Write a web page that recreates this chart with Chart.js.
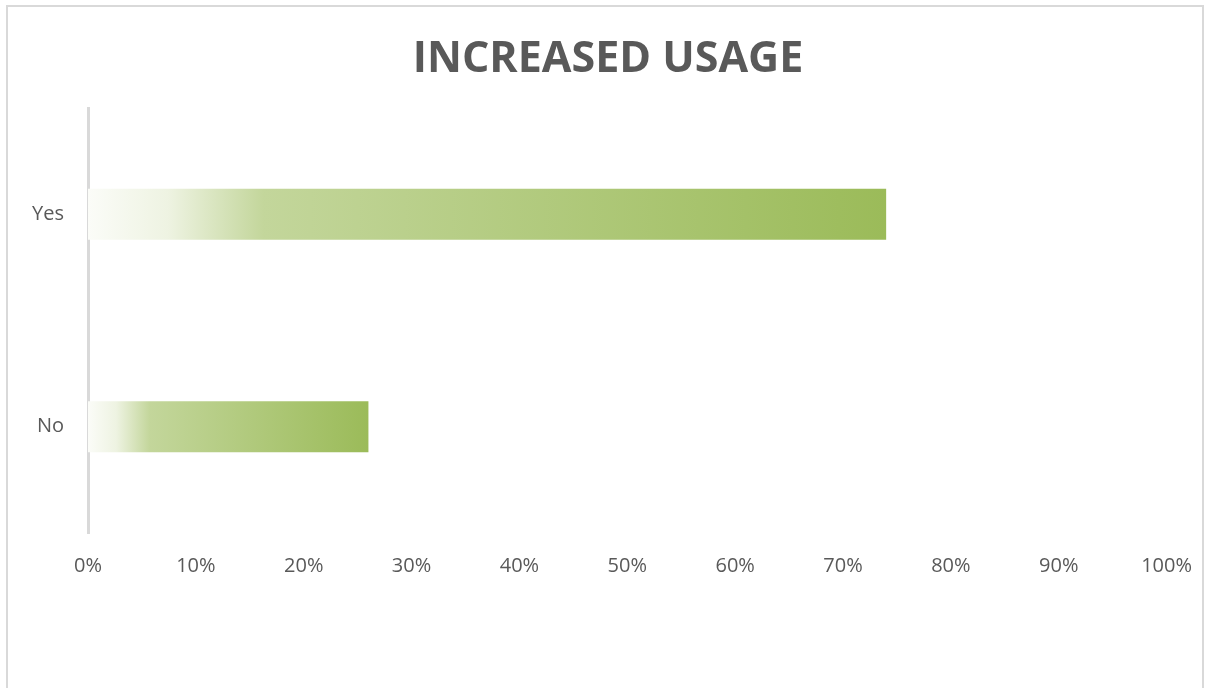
<!DOCTYPE html>
<html>
<head>
<meta charset="utf-8">
<script src="https://cdn.jsdelivr.net/npm/chart.js@4/dist/chart.umd.min.js"></script>
<style>
  html, body { margin: 0; padding: 0; background: #fff; }
  #wrap { position: relative; width: 1205px; height: 688px; }
</style>
</head>
<body>
<div id="wrap"><canvas id="usage-chart" width="1205" height="688"></canvas></div>
<script>
const chartTitle = 'INCREASED USAGE';
const categories = ['Yes', 'No'];
const shares = [74, 26]; // percent
const tickValues = [0, 10, 20, 30, 40, 50, 60, 70, 80, 90, 100];

const textColor = '#595959';
const lineColor = '#d9d9d9';

// Excel-like gradient fill: white fading into green along each bar
function barGradient(context) {
    const chart = context.chart;
    const scales = chart.scales;
    if (!chart.chartArea || !scales.x) return '#9bbb59';
    const x0 = scales.x.getPixelForValue(0);
    const x1 = scales.x.getPixelForValue(context.raw);
    const g = chart.ctx.createLinearGradient(x0, 0, x1, 0);
    g.addColorStop(0, '#fbfcf8');
    g.addColorStop(0.1, '#eef3e2');
    g.addColorStop(0.22, '#c3d69b');
    g.addColorStop(1, '#9bbb59');
    return g;
}

// thin frame round the chart, plus the title (centred a bit right of the canvas middle, like the original)
const framePlugin = {
    id: 'frame',
    beforeDraw(chart) {
        const c = chart.ctx;
        c.save();
        c.strokeStyle = lineColor;
        c.lineWidth = 2;
        c.strokeRect(7, 6, 1196, 700);
        c.fillStyle = textColor;
        c.font = 'bold 43px "Open Sans"';
        c.textAlign = 'center';
        c.textBaseline = 'alphabetic';
        c.fillText(chartTitle, 608, 72);
        c.restore();
    }
};

const ctx = document.getElementById('usage-chart').getContext('2d');
new Chart(ctx, {
    type: 'bar',
    data: {
        labels: categories,
        datasets: [{
            data: shares,
            backgroundColor: barGradient,
            borderWidth: 0,
            barPercentage: 0.48,
            categoryPercentage: 0.5
        }]
    },
    options: {
        indexAxis: 'y',
        responsive: false,
        animation: false,
        layout: { padding: { left: 0, right: 32, top: 108, bottom: 95 } },
        plugins: {
            legend: { display: false },
            tooltip: { enabled: false },
            title: { display: false }
        },
        scales: {
            x: {
                min: 0,
                max: 100,
                afterBuildTicks: axis => { axis.ticks = tickValues.map(v => ({ value: v })); },
                afterFit: axis => { axis.height = 60; },
                grid: { display: false },
                border: { display: false },
                ticks: {
                    color: textColor,
                    font: { family: 'Open Sans', size: 20 },
                    padding: 13,
                    callback: v => v + '%'
                }
            },
            y: {
                afterFit: axis => { axis.width = 88; },
                grid: { display: false },
                border: { display: true, color: lineColor, width: 3 },
                ticks: {
                    color: textColor,
                    font: { family: 'Open Sans', size: 20 },
                    padding: 16
                }
            }
        }
    },
    plugins: [framePlugin]
});
</script>
</body>
</html>
